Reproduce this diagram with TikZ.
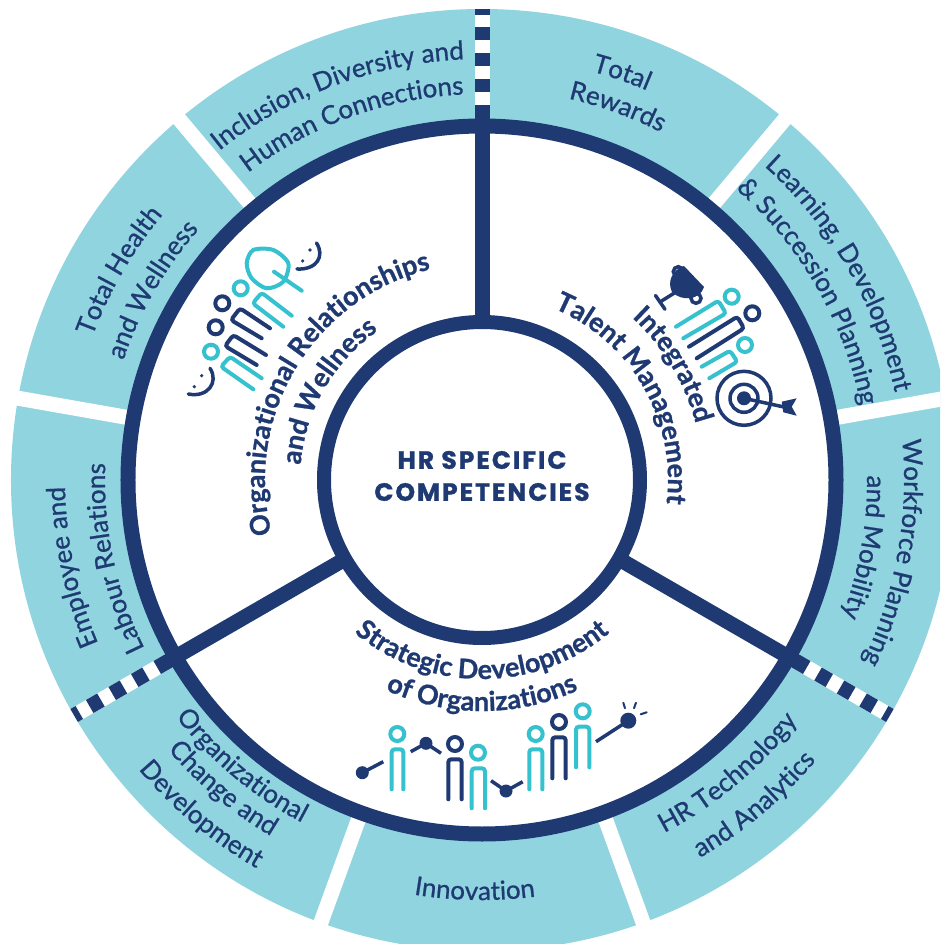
\documentclass[tikz,border=0pt]{standalone}
\usepackage{fontspec}
\setmainfont{Lato}
\newfontfamily\outerface[FakeBold=0.8]{Lato}
\newfontfamily\innerface[BoldFeatures={FakeBold=0.9}]{Lato}
\newfontfamily\headfont[LetterSpace=8,FakeBold=1.2]{Poppins}
\usetikzlibrary{decorations.text}
\definecolor{navy}{HTML}{1F3A72}
\definecolor{paleteal}{HTML}{8FD4DF}
\definecolor{brightteal}{HTML}{36C1CF}
\newcommand{\outerfont}{\outerface\fontsize{26}{26}\selectfont\color{navy}}
\newcommand{\innerfont}{\innerface\fontsize{27}{27}\selectfont\bfseries\color{navy}}
\newcommand{\curvetext}[5]{%
  \pgfmathsetmacro{\angA}{#2-#3*85}%
  \pgfmathsetmacro{\angB}{#2+#3*85}%
  \path[decorate,decoration={text along path,text align=center,text={|#4|#5}}]
    (\angA:#1) arc[start angle=\angA,end angle=\angB,radius=#1];}
\tikzset{
  spoke/.style={navy,line width=15pt},
  gapbar/.style={white,line width=15pt},
  navyicon/.style={navy,line width=4pt,line cap=round,rounded corners=3pt},
  tealicon/.style={brightteal,line width=4pt,line cap=round,rounded corners=3pt},
  thinicon/.style={navy,line width=3.5pt,line cap=round},
}
% style, head, then the body: leg end, two shoulders, leg end
\newcommand{\human}[6]{\draw[#1] (#2) circle[radius=7pt]; \draw[#1] (#3) -- (#4) -- (#5) -- (#6);}
\begin{document}
\begin{tikzpicture}[x=1pt,y=1pt]
\useasboundingbox (-482,-464) rectangle (458,480);
\clip (-482,-464) rectangle (458,480);
\fill[white] (-482,-464) rectangle (458,480);
% outer band
\fill[paleteal,even odd rule] (0,0) circle[radius=471] (0,0) circle[radius=355];
\foreach \a in {50,10,-70,-110,170,130}
  \draw[gapbar] (\a:355) -- (\a:490);
\foreach \a in {90,210,-30}{
  \draw[gapbar] (\a:355) -- (\a:480);
  \draw[spoke] (\a:158) -- (\a:375);
  \foreach \r in {388,414,440}
    \draw[spoke] (\a:\r) -- (\a:\r+13);
  \draw[spoke] (\a:465) -- (\a:471);
}
% rings
\draw[navy,line width=15pt] (0,0) circle[radius=354];
\fill[white] (0,0) circle[radius=158];
\draw[navy,line width=14pt] (0,0) circle[radius=158];
\node[align=center,text=navy,font=\headfont\fontsize{25}{32}\selectfont\bfseries] (core) at (0,4) {HR SPECIFIC\\COMPETENCIES};
% outer labels
\curvetext{423}{71}{-1}{\outerfont}{Total}
\curvetext{391}{70}{-1}{\outerfont}{Rewards}
\curvetext{421}{110.5}{-1}{\outerfont}{Inclusion, Diversity and}
\curvetext{386}{110}{-1}{\outerfont}{Human Connections}
\curvetext{422}{30}{-1}{\outerfont}{Learning, Development}
\curvetext{386}{30}{-1}{\outerfont}{{\&} Succession Planning}
\curvetext{422}{-10}{-1}{\outerfont}{Workforce Planning}
\curvetext{385}{-10}{-1}{\outerfont}{and Mobility}
\curvetext{397}{-50}{1}{\outerfont}{HR Technology}
\curvetext{436}{-50}{1}{\outerfont}{and Analytics}
\curvetext{420}{-91}{1}{\outerfont}{Innovation}
\curvetext{387}{-130}{1}{\outerfont}{Organizational}
\curvetext{414}{-130}{1}{\outerfont}{Change and}
\curvetext{449}{-130}{1}{\outerfont}{Development}
\curvetext{417}{192}{-1}{\outerfont}{Employee and}
\curvetext{377}{192}{-1}{\outerfont}{Labour Relations}
\curvetext{415}{150}{-1}{\outerfont}{Total Health}
\curvetext{378}{150}{-1}{\outerfont}{and Wellness}
% inner labels
\curvetext{217}{149}{-1}{\innerfont}{Organizational Relationships}
\curvetext{182}{150}{-1}{\innerfont}{and Wellness}
\curvetext{221}{31}{-1}{\innerfont}{Integrated}
\curvetext{186}{30}{-1}{\innerfont}{Talent Management}
\curvetext{199}{-90}{1}{\innerfont}{Strategic Development}
\curvetext{231}{-90}{1}{\innerfont}{of Organizations}
% icons in picture pixels
\begin{scope}[shift={(-482,480)},y=-1pt]
  % left group
  \human{tealicon}{211,351.7}{253.3,389.3}{221,366.7}{230,356.7}{261.7,378.3}
  \human{navyicon}{215.7,327.3}{256.7,365}{225,346}{233.3,335}{266,355}
  \human{navyicon}{222.3,303.3}{261.7,338.3}{231,320}{240,308.3}{270,328.3}
  \human{tealicon}{240.7,288.3}{283.3,326.7}{252.7,303.3}{261.7,292.7}{291.7,315.7}
  \draw[brightteal,line width=4pt] plot[smooth cycle] coordinates {(246.7,263.3) (253.3,250) (273.3,250) (288.3,263.3) (283.3,281.7) (266.7,288.3) (251.7,278.3)};
  \draw[brightteal,line width=4pt,line cap=round] (274,271.7) -- (301.7,290.7);
  \draw[thinicon] (316.5,243) .. controls (325,256) and (317,270) .. (297,269);
  \fill[navy] (310,250) circle[radius=1.8] (302.7,261) circle[radius=1.8];
  \draw[thinicon] (210,368.3) .. controls (219,382) and (208,398) .. (188.3,394);
  \fill[navy] (201.7,375.7) circle[radius=1.8] (194.3,386.7) circle[radius=1.8];
  % right group
  \human{tealicon}{731.7,296.7}{676,326.7}{718.3,300.7}{726,313.3}{683.3,338.3}
  \human{navyicon}{752.3,313.3}{689,346.7}{737.3,316.7}{744,328.3}{696.7,358.3}
  \human{tealicon}{745,345}{701.7,366.7}{730,350.7}{737.3,361.7}{709.3,378.3}
  % trophy
  \fill[navy] (684,266) -- (704,287) .. controls (700,300) and (682,302) .. (672,292) .. controls (667,282) and (672,270) .. cycle;
  \draw[thinicon] (678.3,271.7) circle[radius=5];
  \draw[thinicon] (696,298.3) circle[radius=5];
  \draw[thinicon] (660,302) -- (676,292);
  \draw[thinicon] (655.5,295.5) -- (665,309.3);
  % target
  \draw[thinicon] (744,398.3) circle[radius=27];
  \draw[thinicon] (744,398.3) circle[radius=14];
  \fill[navy] (744,398.3) circle[radius=7];
  \draw[thinicon] (744,398.3) -- (784,407);
  \fill[navy] (781.7,401.7) -- (796.7,398.3) -- (791.7,406.7) -- (796.7,415.7) -- (783.3,412.3) -- cycle;
  % bottom group
  \human{tealicon}{397.3,734}{391.7,789.3}{391.7,749.3}{403.3,749.3}{403.3,789.3}
  \human{navyicon}{455,744}{448.3,799.3}{448.3,759.3}{461.7,759.3}{461.7,799.3}
  \human{tealicon}{478,752.7}{471.7,808.3}{471.7,768.3}{485,768.3}{485,808.3}
  \human{tealicon}{535.7,734}{529.3,789.3}{529.3,749.3}{542.3,749.3}{542.3,789.3}
  \human{navyicon}{559,722}{552.3,778.3}{552.3,737.3}{565.7,737.3}{565.7,778.3}
  \human{tealicon}{582.7,711.3}{576,767.3}{576,726.7}{589.3,726.7}{589.3,767.3}
  \fill[navy] (362.3,772.7) circle[radius=6.5] (426,743.3) circle[radius=6.5] (506,791) circle[radius=6.5] (628.3,720.7) circle[radius=8];
  \draw[navy,line width=3.5pt] (362.3,772.7) -- (383.3,761.7);
  \draw[navy,line width=3.5pt] (410.7,751.7) -- (426,743.3) -- (441,753.3);
  \draw[navy,line width=3.5pt] (491,780.7) -- (506,791) -- (522.7,781.7);
  \draw[navy,line width=3.5pt] (596,741.7) -- (628.3,720.7);
  \draw[navy,line width=2pt,line cap=round] (623.3,702.7) -- (625,708.3) (636,702.7) -- (634,708.3) (646.7,712.3) -- (640.7,714.3);
\end{scope}
\end{tikzpicture}
\end{document}
